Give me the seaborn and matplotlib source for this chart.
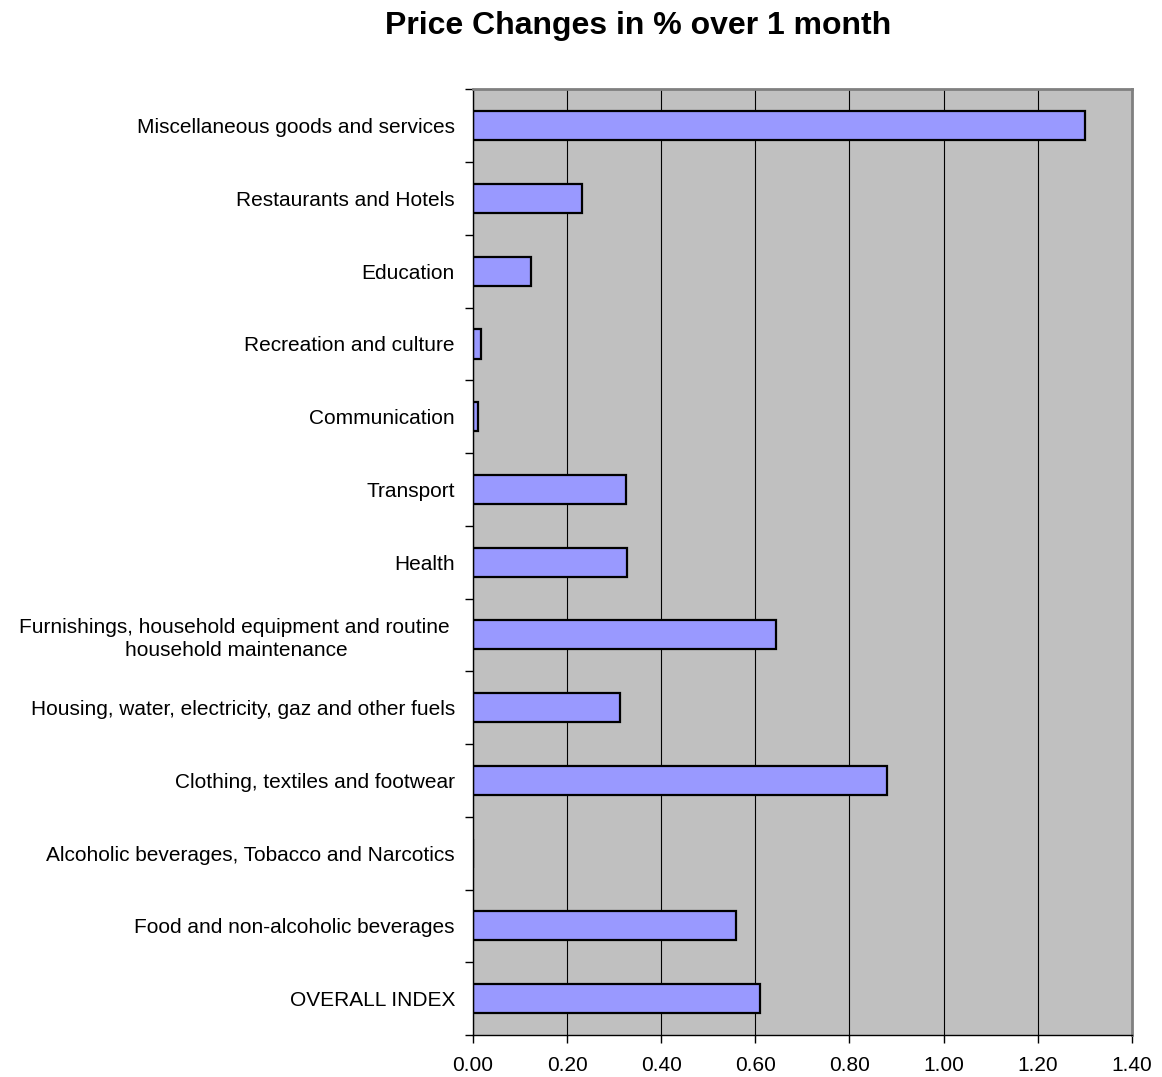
import numpy as np
import matplotlib
matplotlib.use("Agg")
import matplotlib.pyplot as plt
import seaborn as sns
import pandas as pd

# Categories (top to bottom) and one-month price changes in %
categories = [
    "Miscellaneous goods and services",
    "Restaurants and Hotels",
    "Education",
    "Recreation and culture",
    "Communication",
    "Transport",
    "Health",
    "Furnishings, household equipment and routine \nhousehold maintenance",
    "Housing, water, electricity, gaz and other fuels",
    "Clothing, textiles and footwear",
    "Alcoholic beverages, Tobacco and Narcotics",
    "Food and non-alcoholic beverages",
    "OVERALL INDEX",
]
changes = [1.30, 0.232, 0.124, 0.018, 0.011, 0.325, 0.328, 0.645, 0.313, 0.880, 0.0, 0.559, 0.609]
x_ticks = [0.0, 0.2, 0.4, 0.6, 0.8, 1.0, 1.2, 1.4]

df = pd.DataFrame({"category": categories, "change": changes})

sns.set_style("white")
plt.rcParams["font.family"] = ["Liberation Sans", "DejaVu Sans"]
plt.rcParams["text.color"] = "black"
plt.rcParams["xtick.color"] = "black"
plt.rcParams["ytick.color"] = "black"

fig = plt.figure(figsize=(11.62, 10.77), dpi=100)
ax = fig.add_axes([0.407, 0.039, 0.567, 0.878])

ax.set_facecolor("#C0C0C0")
ax.set_axisbelow(True)
ax.xaxis.grid(True, color="black", linewidth=0.8)

sns.barplot(data=df, x="change", y="category", orient="h", order=categories,
            color="#9999FF", saturation=1, width=0.4,
            edgecolor="black", linewidth=1.6, ax=ax)

ax.set_xlim(0, 1.4)
ax.set_ylim(len(categories) - 0.5, -0.5)
ax.set_xticks(x_ticks)
ax.set_xticklabels([f"{v:.2f}" for v in x_ticks], fontsize=15)
ax.set_xlabel("")
ax.set_ylabel("")

# category labels without ticks, small ticks between categories
ax.tick_params(axis="y", which="major", length=0, pad=13, labelsize=15, labelcolor="black")
ax.set_yticks(np.arange(len(categories) + 1) - 0.5, minor=True)
ax.tick_params(axis="y", which="minor", left=True, length=6, width=1, color="black")
ax.tick_params(axis="x", which="major", bottom=True, length=6, width=1, color="black",
               pad=9, labelcolor="black")
for lbl in ax.get_yticklabels():
    lbl.set_multialignment("center")
    lbl.set_linespacing(1.3)

for side in ["top", "right"]:
    ax.spines[side].set_color("#808080")
    ax.spines[side].set_linewidth(2)
for side in ["left", "bottom"]:
    ax.spines[side].set_color("black")
    ax.spines[side].set_linewidth(1)

fig.suptitle("Price Changes in % over 1 month", fontsize=23, fontweight="bold",
             x=0.549, y=0.99, va="top", color="black")

fig.savefig("out.png", dpi=100)
